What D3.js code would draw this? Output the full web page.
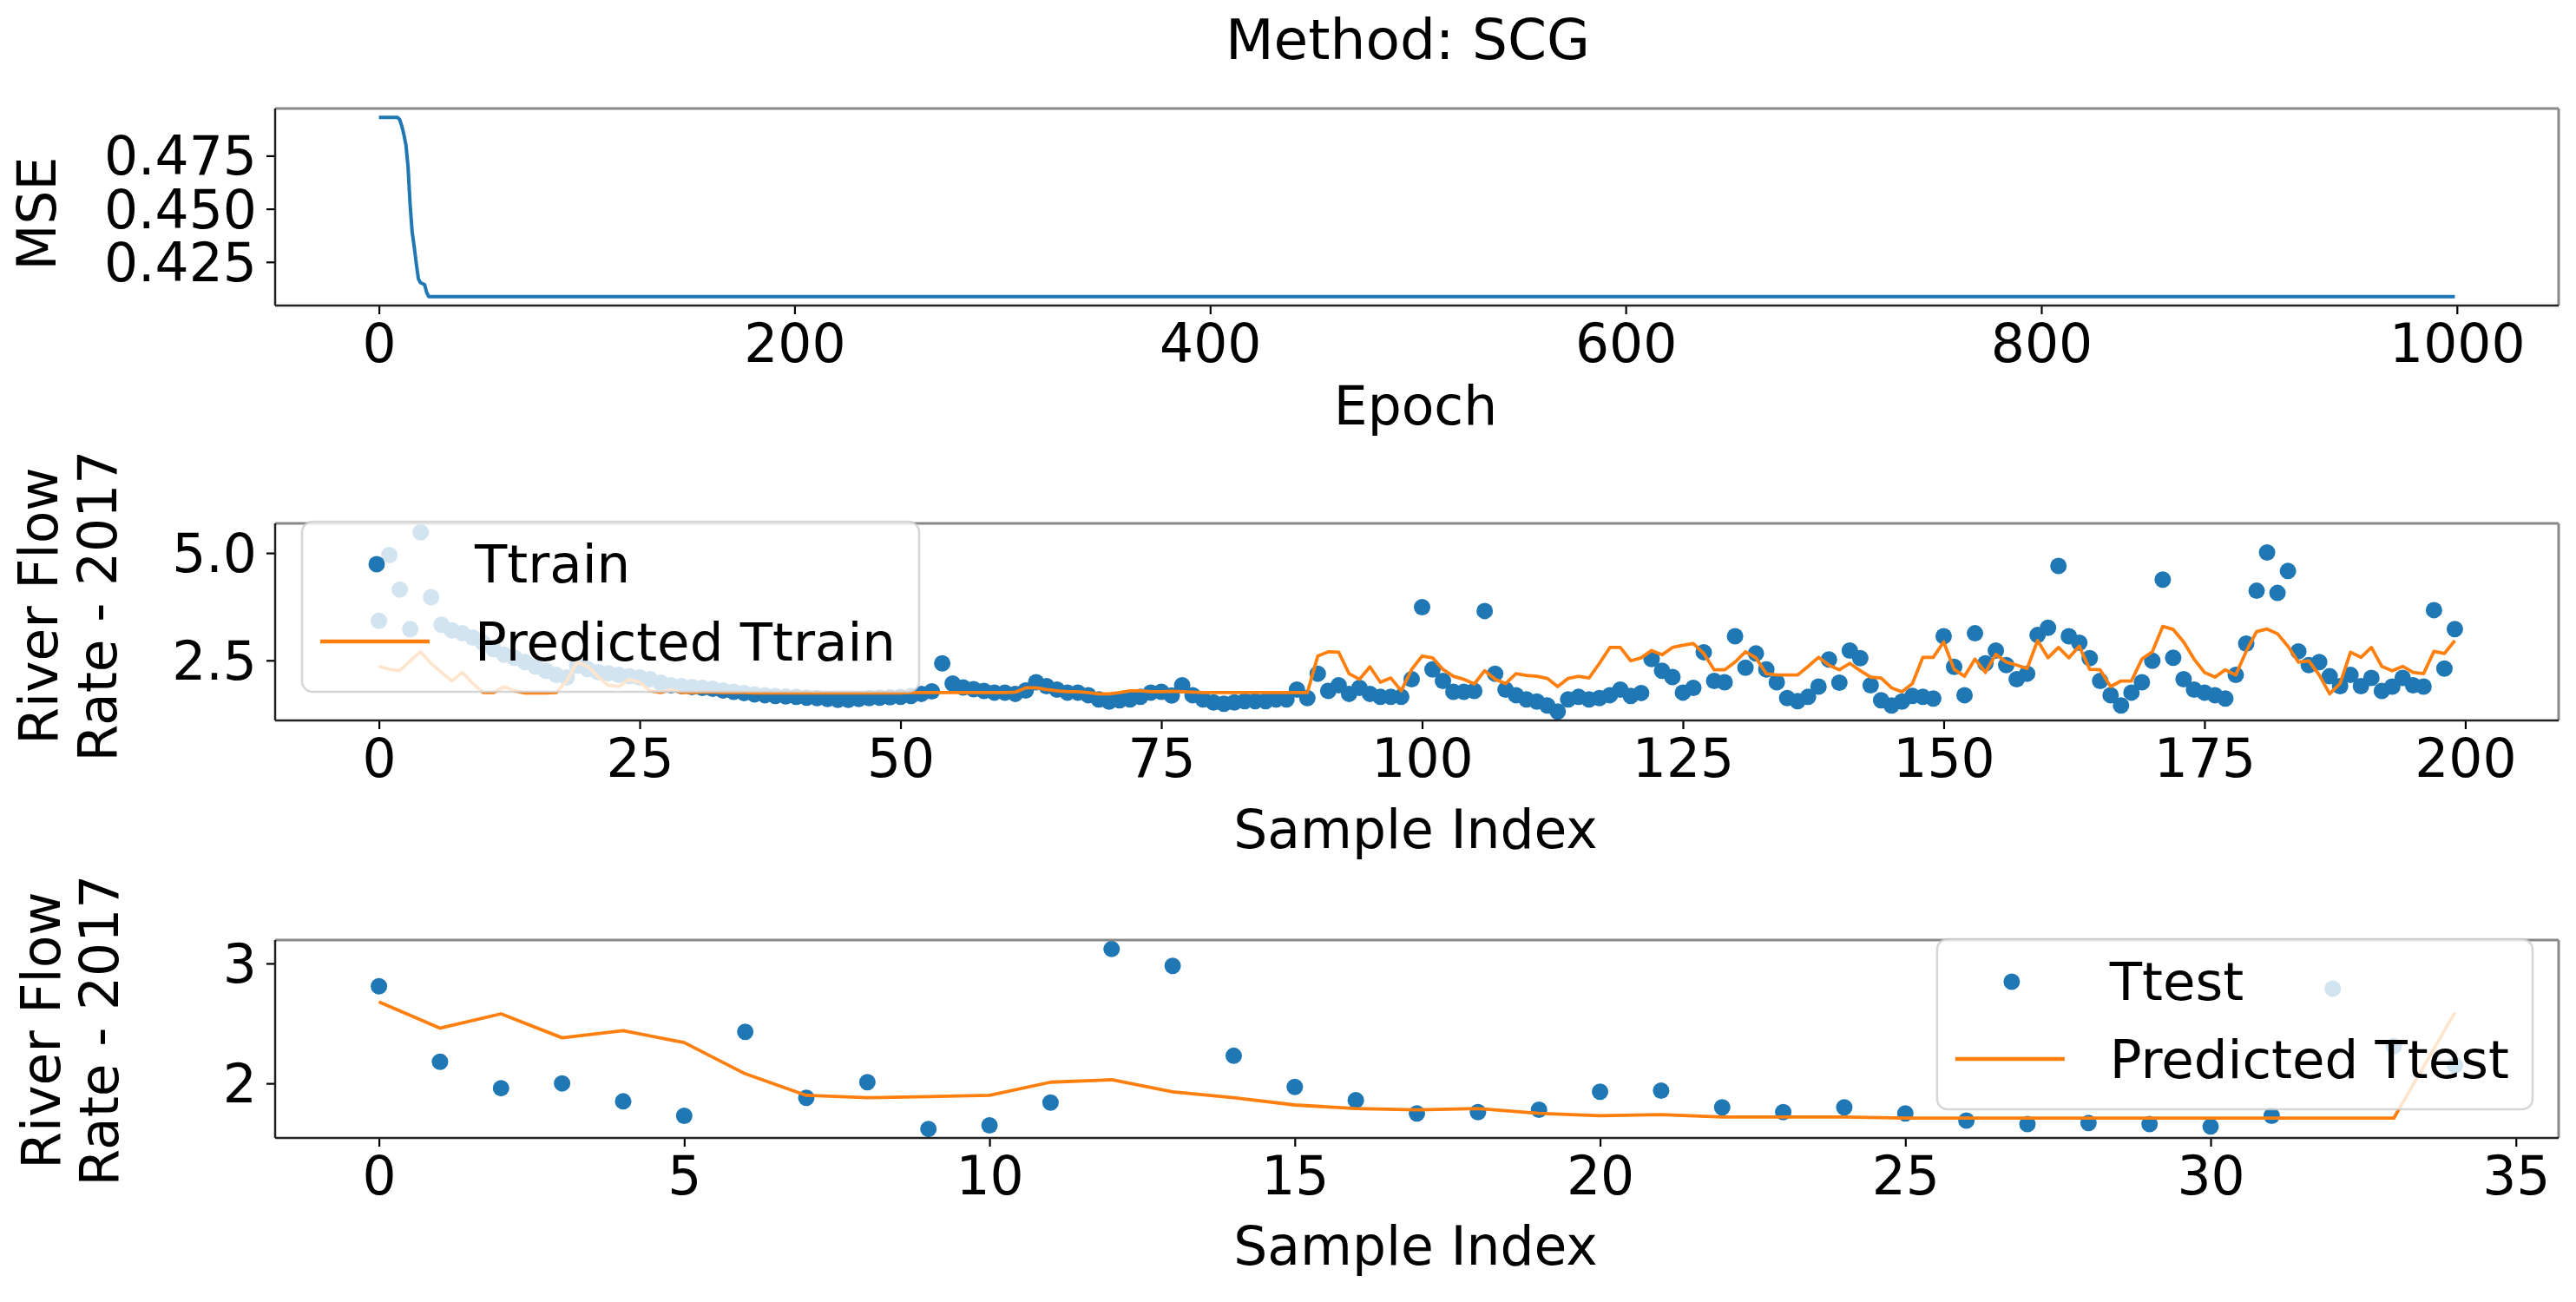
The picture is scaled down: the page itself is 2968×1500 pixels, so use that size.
<!DOCTYPE html>
<html><head><meta charset="utf-8">
<script src="https://cdn.jsdelivr.net/npm/d3@7"></script>
<style>
html,body{margin:0;padding:0;background:#fff;}
svg{display:block;font-family:"DejaVu Sans",sans-serif;}
</style></head><body>
<svg id="c" width="2968" height="1500"></svg>
<script>
// ---------------- data ----------------
const titleText = "Method: SCG";
const mseEpochs = [0, 9, 10, 11, 12, 13, 14, 15, 16, 17, 18, 19, 20, 21, 22, 23, 24, 999];
const mseValues = [0.493, 0.493, 0.492, 0.489, 0.485, 0.480, 0.470, 0.452, 0.439, 0.432, 0.424, 0.417, 0.4152, 0.4148, 0.4143, 0.4105, 0.4087, 0.4087];

const ttrain = [
 3.42, 4.95, 4.15, 3.23, 5.48, 3.97, 3.33, 3.20, 3.13, 3.03,
 2.90, 2.76, 2.63, 2.56, 2.46, 2.36, 2.26, 2.16, 2.10, 2.38,
 2.30, 2.23, 2.20, 2.16, 2.13, 2.10, 2.06, 1.98, 1.92, 1.90,
 1.88, 1.86, 1.84, 1.80, 1.77, 1.74, 1.71, 1.69, 1.67, 1.66,
 1.65, 1.63, 1.62, 1.60, 1.58, 1.58, 1.60, 1.62, 1.63, 1.64,
 1.65, 1.67, 1.72, 1.78, 2.43, 1.96, 1.87, 1.83, 1.79, 1.75,
 1.75, 1.72, 1.80, 1.99, 1.90, 1.82, 1.75, 1.75, 1.69, 1.59,
 1.54, 1.57, 1.59, 1.65, 1.75, 1.77, 1.68, 1.92, 1.69, 1.59,
 1.52, 1.49, 1.52, 1.55, 1.55, 1.55, 1.59, 1.59, 1.82, 1.62,
 2.19, 1.79, 1.92, 1.72, 1.86, 1.72, 1.65, 1.65, 1.65, 2.06,
 3.74, 2.29, 2.02, 1.77, 1.77, 1.79, 3.65, 2.19, 1.82, 1.69,
 1.59, 1.54, 1.45, 1.31, 1.59, 1.65, 1.59, 1.62, 1.69, 1.82,
 1.67, 1.74, 2.53, 2.26, 2.11, 1.75, 1.86, 2.69, 2.02, 1.99,
 3.06, 2.33, 2.66, 2.29, 1.99, 1.62, 1.55, 1.65, 1.89, 2.52,
 1.98, 2.73, 2.55, 1.92, 1.57, 1.45, 1.54, 1.67, 1.65, 1.61,
 3.06, 2.35, 1.69, 3.13, 2.43, 2.73, 2.39, 2.06, 2.19, 3.09,
 3.26, 4.70, 3.06, 2.91, 2.55, 2.02, 1.69, 1.45, 1.75, 1.99,
 2.49, 4.38, 2.56, 2.06, 1.82, 1.75, 1.69, 1.61, 2.16, 2.89,
 4.12, 5.01, 4.07, 4.58, 2.71, 2.39, 2.46, 2.13, 1.90, 2.16,
 1.90, 2.09, 1.79, 1.89, 2.09, 1.92, 1.89, 3.67, 2.31, 3.23
];
const predTrain = [
 2.36, 2.29, 2.26, 2.49, 2.70, 2.43, 2.22, 2.02, 2.22, 1.96,
 1.75, 1.75, 1.89, 1.79, 1.74, 1.74, 1.74, 1.75, 2.02, 2.46,
 2.36, 2.12, 1.92, 1.89, 2.06, 1.99, 1.79, 1.75, 1.82, 1.75,
 1.75, 1.76, 1.76, 1.75, 1.75, 1.75, 1.74, 1.74, 1.74, 1.74,
 1.74, 1.74, 1.74, 1.74, 1.74, 1.74, 1.74, 1.74, 1.74, 1.74,
 1.74, 1.75, 1.75, 1.75, 1.75, 1.75, 1.75, 1.75, 1.75, 1.75,
 1.75, 1.76, 1.86, 1.86, 1.82, 1.79, 1.77, 1.77, 1.75, 1.72,
 1.72, 1.75, 1.79, 1.79, 1.77, 1.77, 1.78, 1.77, 1.76, 1.75,
 1.75, 1.75, 1.75, 1.75, 1.75, 1.75, 1.75, 1.75, 1.75, 1.75,
 2.60, 2.70, 2.69, 2.19, 2.06, 2.35, 1.99, 2.09, 1.79, 2.29,
 2.60, 2.56, 2.29, 2.13, 2.06, 1.95, 2.26, 2.06, 1.96, 2.19,
 2.15, 2.13, 2.08, 1.89, 2.08, 2.13, 2.09, 2.43, 2.80, 2.80,
 2.49, 2.56, 2.73, 2.63, 2.80, 2.85, 2.89, 2.66, 2.28, 2.28,
 2.46, 2.70, 2.56, 2.19, 2.16, 2.16, 2.16, 2.36, 2.57, 2.39,
 2.28, 2.43, 2.26, 2.11, 2.09, 1.86, 1.77, 1.96, 2.57, 2.57,
 2.93, 2.29, 2.13, 2.53, 2.22, 2.64, 2.46, 2.39, 2.31, 2.96,
 2.56, 2.80, 2.56, 2.83, 2.29, 2.28, 1.89, 2.02, 2.02, 2.53,
 2.70, 3.29, 3.22, 2.93, 2.53, 2.22, 2.11, 2.28, 2.16, 2.71,
 3.17, 3.23, 3.12, 2.83, 2.46, 2.49, 2.16, 1.72, 1.96, 2.69,
 2.57, 2.80, 2.36, 2.26, 2.36, 2.22, 2.19, 2.71, 2.66, 2.96
];
const ttest = [2.81, 2.18, 1.96, 2.00, 1.85, 1.73, 2.43, 1.88, 2.01, 1.62,
 1.65, 1.84, 3.12, 2.98, 2.23, 1.97, 1.86, 1.75, 1.76, 1.78,
 1.93, 1.94, 1.80, 1.76, 1.80, 1.75, 1.69, 1.66, 1.67, 1.66,
 1.64, 1.73, 2.79, 2.31, 2.15];
const predTest = [2.68, 2.46, 2.58, 2.38, 2.44, 2.34, 2.08, 1.90, 1.88, 1.89,
 1.90, 2.01, 2.03, 1.93, 1.88, 1.82, 1.79, 1.78, 1.79, 1.75,
 1.73, 1.74, 1.72, 1.72, 1.72, 1.71, 1.71, 1.71, 1.71, 1.71,
 1.71, 1.71, 1.71, 1.71, 2.59];

const mseXTicks = [0, 200, 400, 600, 800, 1000];
const mseYTicks = [0.425, 0.450, 0.475];
const trainXTicks = [0, 25, 50, 75, 100, 125, 150, 175, 200];
const trainYTicks = [2.5, 5.0];
const testXTicks = [0, 5, 10, 15, 20, 25, 30, 35];
const testYTicks = [2, 3];
const trainLabels = ["Ttrain", "Predicted Ttrain"];
const testLabels = ["Ttest", "Predicted Ttest"];

// ---------------- layout ----------------
const BLUE = "#1f77b4", ORANGE = "#ff7f0e";
const FS = 61.5, LFS = 61, TFS = 64.5;
const svg = d3.select("#c");
const P = {
  top: {x0: 317, x1: 2948, y0: 125, y1: 352},
  mid: {x0: 317, x1: 2948, y0: 603, y1: 830},
  bot: {x0: 317, x1: 2948, y0: 1083, y1: 1311}
};

function padded(lo, hi) { const s = hi - lo; return [lo - 0.05 * s, hi + 0.05 * s]; }

function drawAxes(p, xs, ys, xt, yt, xf, yf) {
  const gx = svg.append("g").attr("transform", `translate(0,${p.y1})`)
    .call(d3.axisBottom(xs).tickValues(xt).tickFormat(xf).tickSize(10).tickPadding(11));
  const gy = svg.append("g").attr("transform", `translate(${p.x0},0)`)
    .call(d3.axisLeft(ys).tickValues(yt).tickFormat(yf).tickSize(10).tickPadding(11));
  [gx, gy].forEach(g => {
    g.select(".domain").remove();
    g.attr("font-size", FS).attr("font-family", "DejaVu Sans");
    g.selectAll(".tick line").attr("stroke", "#000").attr("stroke-width", 2.2);
    g.selectAll(".tick text").attr("fill", "#000");
  });
  gy.selectAll(".tick text").attr("dy", "0.35em");
}
function drawSpines(p) {
  const g = svg.append("g").attr("fill", "none");
  g.append("line").attr("x1", p.x0).attr("x2", p.x1).attr("y1", p.y0).attr("y2", p.y0).attr("stroke", "#888").attr("stroke-width", 3);
  g.append("line").attr("x1", p.x1).attr("x2", p.x1).attr("y1", p.y0).attr("y2", p.y1).attr("stroke", "#888").attr("stroke-width", 3);
  g.append("line").attr("x1", p.x0).attr("x2", p.x0).attr("y1", p.y0).attr("y2", p.y1).attr("stroke", "#222").attr("stroke-width", 2.5);
  g.append("line").attr("x1", p.x0).attr("x2", p.x1).attr("y1", p.y1).attr("y2", p.y1).attr("stroke", "#222").attr("stroke-width", 2.5);
}
function drawLegend(x, y, labels, anchorRight) {
  const g = svg.append("g");
  const t1 = g.append("text").attr("font-size", LFS).attr("fill", "#000").text(labels[0]);
  const t2 = g.append("text").attr("font-size", LFS).attr("fill", "#000").text(labels[1]);
  const tw = Math.max(t1.node().getComputedTextLength(), t2.node().getComputedTextLength());
  const w = 199 + tw + 27, h = 196;
  const bx = anchorRight ? x - w : x;
  g.insert("rect", "text").attr("x", bx).attr("y", y).attr("width", w).attr("height", h)
    .attr("rx", 12).attr("ry", 12).attr("fill", "#fff").attr("fill-opacity", 0.8)
    .attr("stroke", "#cccccc").attr("stroke-opacity", 0.8).attr("stroke-width", 2.5);
  g.append("circle").attr("cx", bx + 86).attr("cy", y + 49).attr("r", 9.5).attr("fill", BLUE);
  g.append("line").attr("x1", bx + 21).attr("x2", bx + 147).attr("y1", y + 138).attr("y2", y + 138)
    .attr("stroke", ORANGE).attr("stroke-width", 4.3);
  t1.attr("x", bx + 199).attr("y", y + 70);
  t2.attr("x", bx + 199).attr("y", y + 160);
}

// ---------------- title ----------------
svg.append("text").attr("x", 1622).attr("y", 68).attr("text-anchor", "middle")
  .attr("font-size", TFS).attr("fill", "#000").text(titleText);

// ---------------- panel 1: MSE ----------------
{
  const p = P.top;
  const xs = d3.scaleLinear().domain(padded(0, 999)).range([p.x0, p.x1]);
  const ys = d3.scaleLinear().domain(padded(d3.min(mseValues), d3.max(mseValues))).range([p.y1, p.y0]);
  drawAxes(p, xs, ys, mseXTicks, mseYTicks, d3.format("d"), d3.format(".3f"));
  const pts = mseEpochs.map((e, i) => [e, mseValues[i]]);
  svg.append("path").datum(pts).attr("fill", "none").attr("stroke", BLUE).attr("stroke-width", 4)
    .attr("stroke-linejoin", "round")
    .attr("d", d3.line().x(d => xs(d[0])).y(d => ys(d[1])));
  drawSpines(p);
  svg.append("text").attr("x", 1631).attr("y", 489).attr("text-anchor", "middle").attr("font-size", FS).text("Epoch");
  svg.append("text").attr("transform", "translate(64,246) rotate(-90)").attr("text-anchor", "middle").attr("font-size", FS).text("MSE");
}

// ---------------- panel 2: train ----------------
{
  const p = P.mid;
  const xs = d3.scaleLinear().domain(padded(0, ttrain.length - 1)).range([p.x0, p.x1]);
  const all = ttrain.concat(predTrain);
  const ys = d3.scaleLinear().domain(padded(d3.min(all), d3.max(all))).range([p.y1, p.y0]);
  drawAxes(p, xs, ys, trainXTicks, trainYTicks, d3.format("d"), d3.format(".1f"));
  svg.append("g").selectAll("circle").data(ttrain).join("circle")
    .attr("cx", (d, i) => xs(i)).attr("cy", d => ys(d)).attr("r", 9.5).attr("fill", BLUE);
  svg.append("path").datum(predTrain).attr("fill", "none").attr("stroke", ORANGE).attr("stroke-width", 3.8)
    .attr("stroke-linejoin", "round")
    .attr("d", d3.line().x((d, i) => xs(i)).y(d => ys(d)));
  drawSpines(p);
  drawLegend(348, 601, trainLabels, false);
  svg.append("text").attr("x", 1631).attr("y", 977).attr("text-anchor", "middle").attr("font-size", FS).text("Sample Index");
  svg.append("text").attr("transform", "translate(66,698) rotate(-90)").attr("text-anchor", "middle").attr("font-size", FS).text("River Flow");
  svg.append("text").attr("transform", "translate(134,698) rotate(-90)").attr("text-anchor", "middle").attr("font-size", FS).text("Rate - 2017");
}

// ---------------- panel 3: test ----------------
{
  const p = P.bot;
  const xs = d3.scaleLinear().domain(padded(0, ttest.length - 1)).range([p.x0, p.x1]);
  const all = ttest.concat(predTest);
  const ys = d3.scaleLinear().domain(padded(d3.min(all), d3.max(all))).range([p.y1, p.y0]);
  drawAxes(p, xs, ys, testXTicks, testYTicks, d3.format("d"), d3.format("d"));
  svg.append("g").selectAll("circle").data(ttest).join("circle")
    .attr("cx", (d, i) => xs(i)).attr("cy", d => ys(d)).attr("r", 9.5).attr("fill", BLUE);
  svg.append("path").datum(predTest).attr("fill", "none").attr("stroke", ORANGE).attr("stroke-width", 3.8)
    .attr("stroke-linejoin", "round")
    .attr("d", d3.line().x((d, i) => xs(i)).y(d => ys(d)));
  drawSpines(p);
  drawLegend(2918, 1082, testLabels, true);
  svg.append("text").attr("x", 1631).attr("y", 1457).attr("text-anchor", "middle").attr("font-size", FS).text("Sample Index");
  svg.append("text").attr("transform", "translate(69,1187) rotate(-90)").attr("text-anchor", "middle").attr("font-size", FS).text("River Flow");
  svg.append("text").attr("transform", "translate(136,1187) rotate(-90)").attr("text-anchor", "middle").attr("font-size", FS).text("Rate - 2017");
}
</script>
</body></html>
